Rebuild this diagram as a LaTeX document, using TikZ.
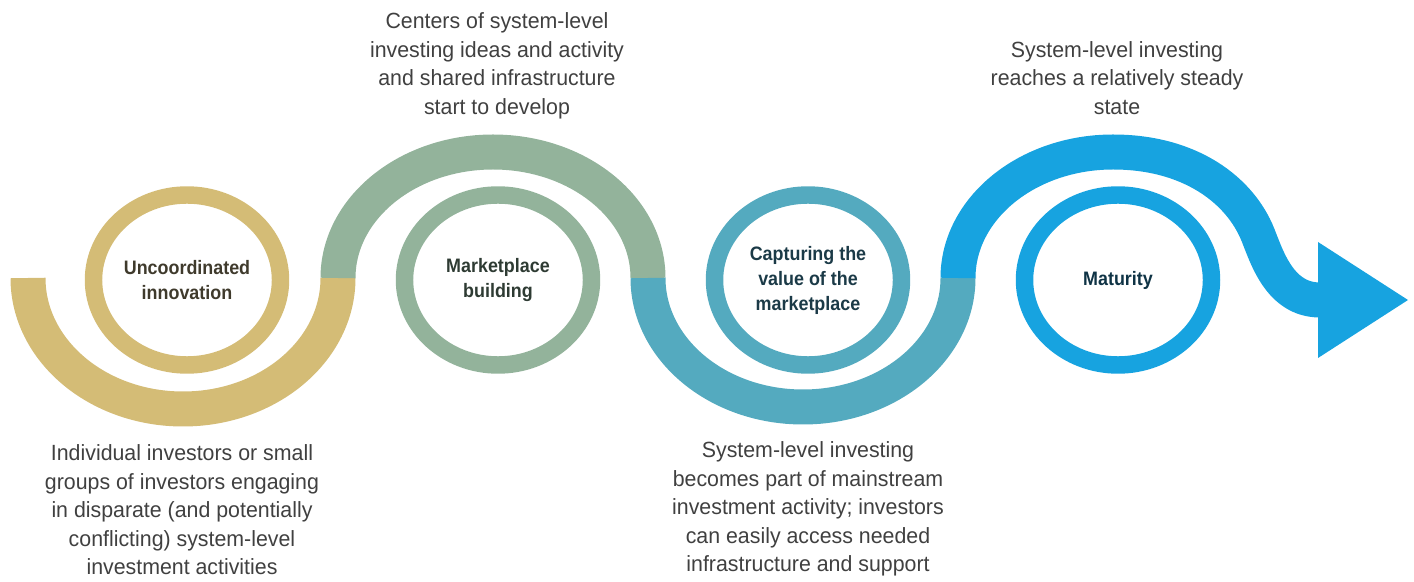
\documentclass[tikz,border=0pt]{standalone}
\usepackage{fontspec}
\setmainfont{Liberation Sans}[FakeStretch=0.97]
\newfontfamily\stagefont{Liberation Sans}[FakeStretch=0.92]
\usepackage{xcolor}
\usetikzlibrary{shapes.geometric}
\definecolor{bandgold}{HTML}{D4BC76}
\definecolor{bandsage}{HTML}{93B39B}
\definecolor{bandteal}{HTML}{54AABF}
\definecolor{bandsky}{HTML}{17A3E0}
\definecolor{goldtext}{HTML}{3F3A2C}
\definecolor{sagetext}{HTML}{2E3B33}
\definecolor{tealtext}{HTML}{1B3A47}
\definecolor{skytext}{HTML}{0F3345}
\definecolor{desctext}{HTML}{404040}
\tikzset{
	band/.style={line width=26.25pt},
	stage node/.style={ellipse,line width=13.1pt,minimum width=140.25pt,minimum height=127.5pt,
		inner sep=0pt,align=center,font=\stagefont\bfseries\fontsize{14.6}{18.75}\selectfont},
	desc node/.style={align=center,text=desctext,font=\fontsize{16.5}{21.4}\selectfont}
}

\begin{document}
\begin{tikzpicture}[x=0.75pt,y=0.75pt]
	\useasboundingbox (0,0) rectangle (1414,582);
	% the winding band
	\draw[band,bandgold] (28,304) arc[start angle=180,end angle=360,x radius=155,y radius=131];
	\draw[band,bandsage] (338,304) arc[start angle=180,end angle=0,x radius=155,y radius=126];
	\draw[band,bandteal] (648,304) arc[start angle=180,end angle=360,x radius=155,y radius=129];
	\draw[band,bandsky] (958,304) arc[start angle=180,end angle=90,x radius=155,y radius=126]
		.. controls (1190,430) and (1240,392) .. (1258,347)
		.. controls (1267,324.5) and (1280,282) .. (1320,282);
	\fill[bandsky] (1318,340) -- (1408,282) -- (1318,224) -- cycle;
	% stages
	\node[stage node,draw=bandgold,text=goldtext] (uncoord) at (187,302) {Uncoordinated\\innovation};
	\node[stage node,draw=bandsage,text=sagetext] (market) at (498,302) {Marketplace\\building};
	\node[stage node,draw=bandteal,text=tealtext] (capture) at (808,302) {Capturing the\\value of the\\marketplace};
	\node[stage node,draw=bandsky,text=skytext] (mature) at (1118,302) {Maturity};
	% descriptions
	\node[desc node] (uncoord desc) at (182,72) {Individual investors or small\\groups of investors engaging\\in disparate (and potentially\\conflicting) system-level\\investment activities};
	\node[desc node] (market desc) at (497,516) {Centers of system-level\\investing ideas and activity\\and shared infrastructure\\start to develop};
	\node[desc node] (capture desc) at (808,73) {System-level investing\\becomes part of mainstream\\investment activity; investors\\can easily access needed\\infrastructure and support};
	\node[desc node] (mature desc) at (1117,504) {System-level investing\\reaches a relatively steady\\state};
\end{tikzpicture}
\end{document}
